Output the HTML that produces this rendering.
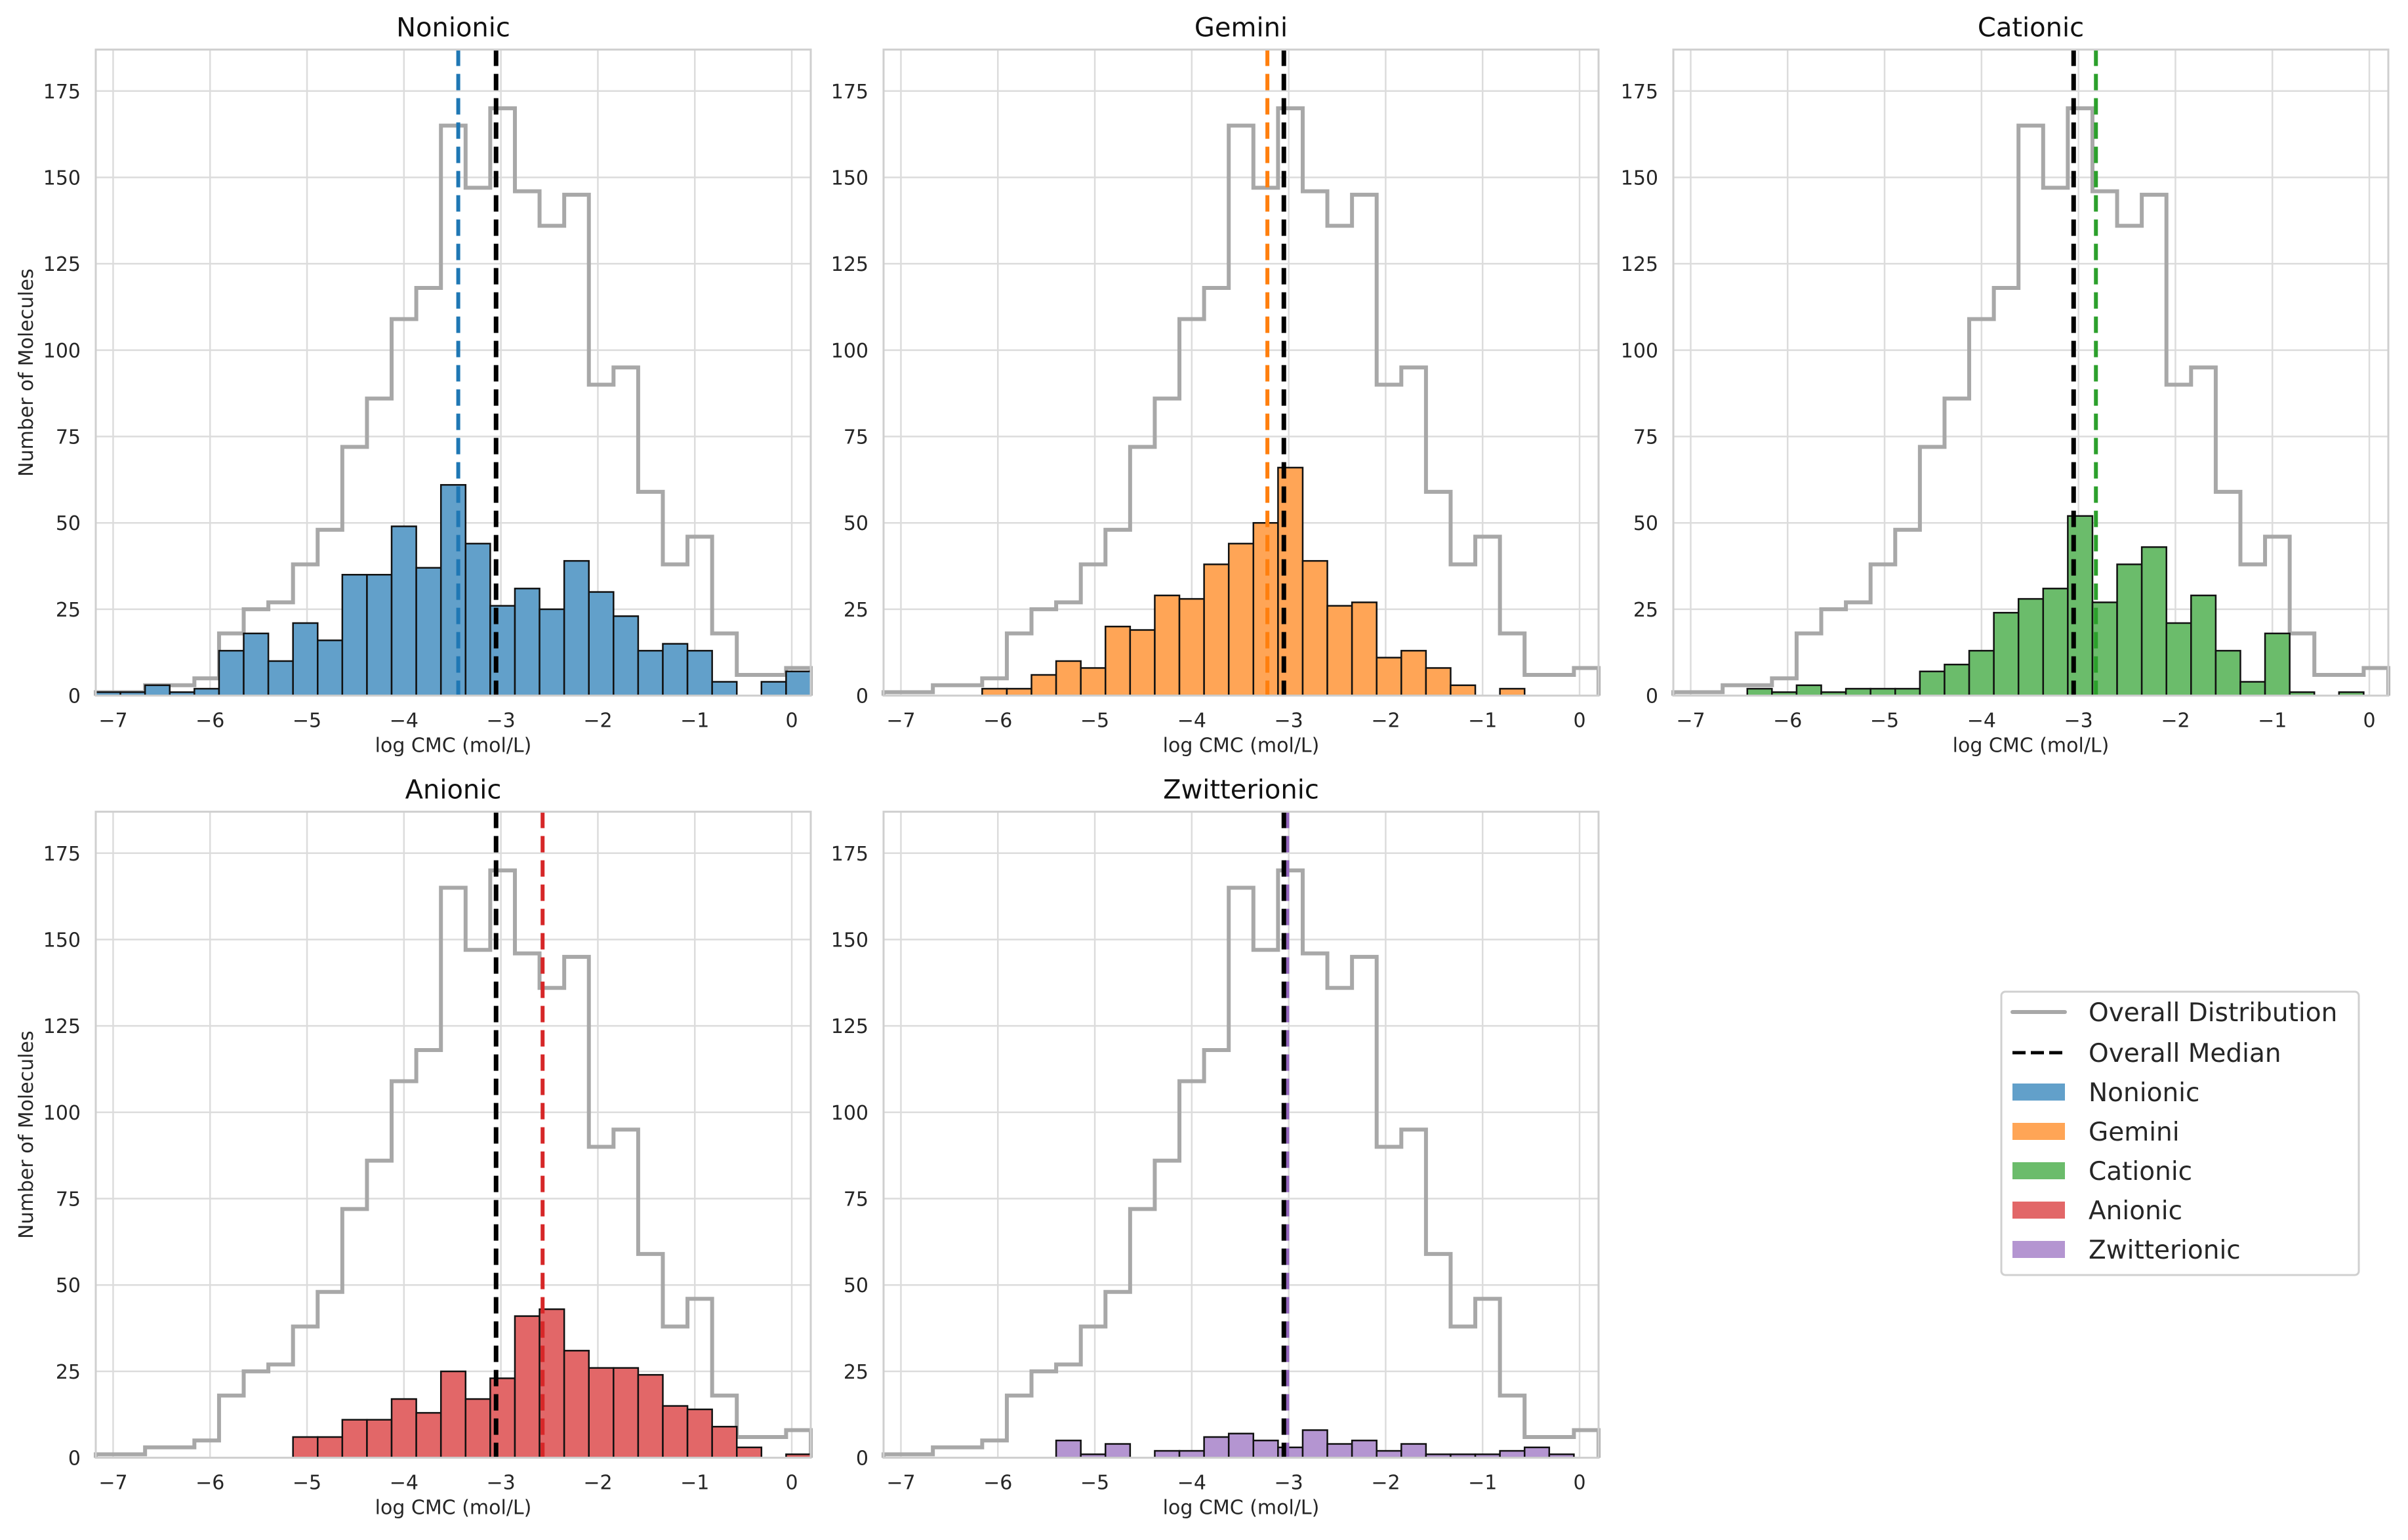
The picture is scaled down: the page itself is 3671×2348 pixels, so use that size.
<!DOCTYPE html>
<html><head><meta charset="utf-8"><style>
html,body{margin:0;padding:0;background:#fff;}
svg{display:block;font-family:"DejaVu Sans","Liberation Sans",sans-serif;}
</style></head><body>
<svg id="fig" width="3671" height="2348" viewBox="0 0 3671 2348" xmlns="http://www.w3.org/2000/svg">
<rect x="0" y="0" width="3671" height="2348" fill="#fff"/>
<g id="legend">
  <rect x="3051" y="1512" width="545" height="432" rx="6" fill="#fff" stroke="#d0d0d0" stroke-width="3"/>
  <g><line x1="3068" y1="1543" x2="3148" y2="1543" stroke="#a8a8a8" stroke-width="6" stroke-linecap="round"/><text x="3184" y="1557" font-size="39" fill="#262626">Overall Distribution</text></g>
  <g><line x1="3068" y1="1605" x2="3148" y2="1605" stroke="#000" stroke-width="5" stroke-dasharray="20 8"/><text x="3184" y="1619" font-size="39" fill="#262626">Overall Median</text></g>
  <g><rect x="3068" y="1652" width="80" height="26" fill="#62a0ca"/><text x="3184" y="1679" font-size="39" fill="#262626">Nonionic</text></g>
  <g><rect x="3068" y="1712" width="80" height="26" fill="#ffa556"/><text x="3184" y="1739" font-size="39" fill="#262626">Gemini</text></g>
  <g><rect x="3068" y="1772" width="80" height="26" fill="#6bbc6b"/><text x="3184" y="1799" font-size="39" fill="#262626">Cationic</text></g>
  <g><rect x="3068" y="1832" width="80" height="26" fill="#e26768"/><text x="3184" y="1859" font-size="39" fill="#262626">Anionic</text></g>
  <g><rect x="3068" y="1892" width="80" height="26" fill="#b495d1"/><text x="3184" y="1919" font-size="39" fill="#262626">Zwitterionic</text></g>
</g>
</svg>
<script>
const overallCounts = [1,1,3,3,5,18,25,27,38,48,72,86,109,118,165,147,170,146,136,145,90,95,59,38,46,18,6,6,8];
const nonionicCounts = [1,1,3,1,2,13,18,10,21,16,35,35,49,37,61,44,26,31,25,39,30,23,13,15,13,4,0,4,7];
const geminiCounts = [0,0,0,0,2,2,6,10,8,20,19,29,28,38,44,50,66,39,26,27,11,13,8,3,0,2,0,0,0];
const cationicCounts = [0,0,0,2,1,3,1,2,2,2,7,9,13,24,28,31,52,27,38,43,21,29,13,4,18,1,0,1,0];
const anionicCounts = [0,0,0,0,0,0,0,0,6,6,11,11,17,13,25,17,23,41,43,31,26,26,24,15,14,9,3,0,1];
const zwitterionicCounts = [0,0,0,0,0,0,0,5,1,4,0,2,2,6,7,5,3,8,4,5,2,4,1,1,1,2,3,1,0];
const categoryNames = ["Nonionic","Gemini","Cationic","Anionic","Zwitterionic"];
const categoryMedians = [-3.44,-3.22,-2.82,-2.57,-3.015];
const overallMedian = -3.05;
const xTicks = [-7,-6,-5,-4,-3,-2,-1,0];
const yTicks = [0,25,50,75,100,125,150,175];

const XMIN=-7.179, XMAX=0.196, YMAX=187, NB=29;
const colors=["#1f77b4","#ff7f0e","#2ca02c","#d62728","#9467bd"];
const fills=["#62a0ca","#ffa556","#6bbc6b","#e26768","#b495d1"];
const allCounts=[nonionicCounts,geminiCounts,cationicCounts,anionicCounts,zwitterionicCounts];
const panels=[[146,75.6],[1347,75.6],[2551,75.6],[146,1237.6],[1347,1237.6]];
const W=1090, H=985;
const NS="http://www.w3.org/2000/svg";
const svg=document.getElementById('fig');
function el(tag,attrs,parent){const e=document.createElementNS(NS,tag);for(const k in attrs)e.setAttribute(k,attrs[k]);(parent||svg).appendChild(e);return e;}
function fmt(v){return v<0?"\u2212"+(-v):String(v);}

for(let p=0;p<5;p++){
  const [L,T]=panels[p];
  const sx=v=>L+(v-XMIN)/(XMAX-XMIN)*W;
  const sy=v=>T+H-v/YMAX*H;
  const g=el('g',{});
  
  
  const bg=el('rect',{x:L,y:T,width:W,height:H,fill:'#fff'},g);
  
  
  xTicks.forEach(t=>{
    const ln=el('line',{x1:sx(t),x2:sx(t),y1:T,y2:T+H,stroke:'#dcdcdc','stroke-width':2.5},g);
    
    
    const tx=el('text',{x:sx(t),y:T+H+48,'font-size':30,'text-anchor':'middle',fill:'#262626'},g);
    tx.textContent=fmt(t);
    
    
  });
  yTicks.forEach(t=>{
    const ln=el('line',{x1:L,x2:L+W,y1:sy(t),y2:sy(t),stroke:'#dcdcdc','stroke-width':2.5},g);
    
    
    const tx=el('text',{x:L-23,y:sy(t)+11,'font-size':30,'text-anchor':'end',fill:'#262626'},g);
    tx.textContent=String(t);
    
    
  });
  const bw=(XMAX-XMIN)/NB;
  let d="M"+sx(XMIN)+","+sy(0);
  for(let i=0;i<NB;i++){d+=" L"+sx(XMIN+i*bw)+","+sy(overallCounts[i])+" L"+sx(XMIN+(i+1)*bw)+","+sy(overallCounts[i]);}
  d+=" L"+sx(XMAX)+","+sy(0);
  const step=el('path',{d:d,fill:'none',stroke:'#a8a8a8','stroke-width':6},g);
  
  
  const cs=allCounts[p];
  for(let i=0;i<NB;i++){
    if(cs[i]<=0)continue;
    const x0=sx(XMIN+i*bw), x1=sx(XMIN+(i+1)*bw);
    const r=el('rect',{x:x0,y:sy(cs[i]),width:x1-x0,height:sy(0)-sy(cs[i]),fill:fills[p],stroke:'#111','stroke-width':2.5},g);
    
    
  }
  const mc=el('line',{x1:sx(categoryMedians[p]),x2:sx(categoryMedians[p]),y1:T,y2:T+H,stroke:colors[p],'stroke-width':6,'stroke-dasharray':'25 12'},g);
  
  
  const mo=el('line',{x1:sx(overallMedian),x2:sx(overallMedian),y1:T,y2:T+H,stroke:'#000','stroke-width':7,'stroke-dasharray':'25 12'},g);
  
  
  const fr=el('rect',{x:L,y:T,width:W,height:H,fill:'none',stroke:'#cfcfcf','stroke-width':3},g);
  
  
  const ti=el('text',{x:L+W/2,y:T-20,'font-size':40,'text-anchor':'middle',fill:'#111'},g);
  ti.textContent=categoryNames[p];
  
  
  const xl=el('text',{x:L+W/2,y:T+H+86,'font-size':30,'text-anchor':'middle',fill:'#262626'},g);
  xl.textContent="log CMC (mol/L)";
  
  
  if(L<200){
    const cy=T+H/2;
    const yl=el('text',{x:50,y:cy,'font-size':30,'text-anchor':'middle',fill:'#262626',transform:'rotate(-90 50 '+cy+')'},g);
    yl.textContent="Number of Molecules";
    
    
  }
}
svg.appendChild(document.getElementById('legend'));
</script>
</body></html>
